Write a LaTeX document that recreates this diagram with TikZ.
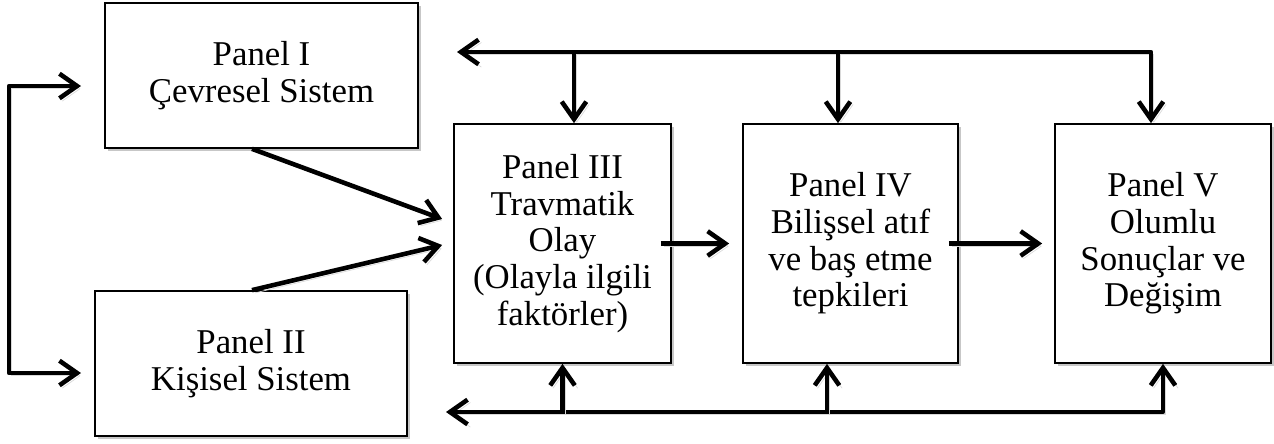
\documentclass[tikz,border=0pt]{standalone}
\usepackage{fontspec}
\setmainfont{Liberation Serif}
\usetikzlibrary{arrows.meta,shadows,positioning}

\tikzset{
  panel/.style={draw, line width=1pt, fill=white, align=center, inner sep=0pt,
    font=\fontsize{19.8}{20.9}\selectfont,
    drop shadow={shadow xshift=1.8pt, shadow yshift=-1.8pt, fill=black!22, opacity=1}},
  flow/.style={line width=2.6pt, line join=round, -{Straight Barb[length=10pt,width=14pt]},
    preaction={draw=black!15, transform canvas={shift={(1.6pt,-1.6pt)}}}},
  twoway/.style={flow, {Straight Barb[length=10pt,width=14pt]}-{Straight Barb[length=10pt,width=14pt]}},
}

\begin{document}
\begin{tikzpicture}[x=0.02cm, y=-0.02cm]
  \useasboundingbox (0,0) rectangle (1274,443);

  % panels
  \node[panel, minimum width=6.26cm, minimum height=2.9cm] (p1) at (261.5,75.5) {Panel I\\Çevresel Sistem};
  \node[panel, minimum width=6.24cm, minimum height=2.9cm] (p2) at (251,363.5) {Panel II\\Kişisel Sistem};
  \node[panel, minimum width=4.34cm, minimum height=4.78cm] (p3) at (562.5,243.5) {Panel III\\Travmatik\\Olay\\(Olayla ilgili\\faktörler)};
  \node[panel, minimum width=4.3cm, minimum height=4.78cm] (p4) at (850.5,243.5) {Panel IV\\Bilişsel atıf\\ve baş etme\\tepkileri};
  \node[panel, minimum width=4.32cm, minimum height=4.78cm] (p5) at (1163,243.5) {Panel V\\Olumlu\\Sonuçlar ve\\Değişim};

  % bus ends
  \coordinate (tl) at (457,52);
  \coordinate (bl) at (446,412);
  \coordinate (lt) at (9,86);
  \coordinate (lb) at (9,373);

  % left bracket
  \draw[twoway] (81,86) -- (lt) -- (lb) -- (81,373);

  % into panel III
  \draw[flow] ([xshift=-0.19cm]p1.south) -- ([xshift=-0.22cm, yshift=0.49cm]p3.west);
  \draw[flow] ([xshift=0.02cm]p2.north) -- ([xshift=-0.22cm, yshift=-0.03cm]p3.west);

  % along the row
  \draw[flow] ([xshift=-0.22cm]p3.east) -- ([xshift=-0.26cm]p4.west);
  \draw[flow] ([xshift=-0.2cm]p4.east) -- ([xshift=-0.24cm]p5.west);

  % top bus
  \draw[twoway] ([xshift=-0.24cm]p5.north) |- (tl);
  \draw[flow] ([xshift=0.23cm]p3.north |- tl) -- ([xshift=0.23cm]p3.north);
  \draw[flow] ([xshift=-0.25cm]p4.north |- tl) -- ([xshift=-0.25cm]p4.north);

  % bottom bus
  \draw[twoway] (p5.south) |- (bl);
  \draw[flow] (p3.south |- bl) -- (p3.south);
  \draw[flow] ([xshift=-0.47cm]p4.south |- bl) -- ([xshift=-0.47cm]p4.south);
\end{tikzpicture}
\end{document}
